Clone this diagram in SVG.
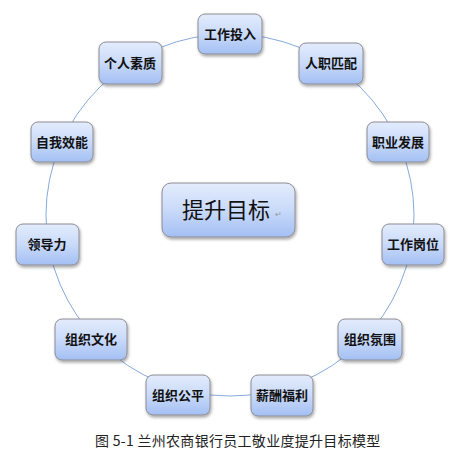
<svg xmlns="http://www.w3.org/2000/svg" width="465" height="454" viewBox="0 0 465 454">
<defs>
<linearGradient id="g" x1="0" y1="0" x2="0" y2="1">
<stop offset="0" stop-color="#e3ecfc"/>
<stop offset="0.5" stop-color="#c9dafa"/>
<stop offset="1" stop-color="#a3bff3"/>
</linearGradient>
<filter id="sh" x="-20%" y="-20%" width="140%" height="150%">
<feDropShadow dx="1" dy="2" stdDeviation="1.5" flood-color="#000" flood-opacity="0.35"/>
</filter>
</defs>
<style>
.box{fill:url(#g);stroke:#8c8c94;stroke-width:1;filter:url(#sh)}
.t{font-family:"Noto Sans CJK SC","Noto Sans",sans-serif;font-size:13px;font-weight:bold;fill:#111;text-anchor:middle}
.m{font-family:"Noto Sans CJK SC","Noto Sans",sans-serif;font-size:22px;fill:#111;text-anchor:middle}
.c{font-family:"Noto Sans CJK SC","Noto Sans",sans-serif;font-size:14px;letter-spacing:0.3px;fill:#222}
.line{fill:none;stroke:#86a9dc;stroke-width:1}
</style>
<rect width="465" height="454" fill="#fff"/>
<g id="connectors">
<ellipse class="line" cx="230" cy="215" rx="184" ry="181"/>
</g>
<g id="center">
<rect class="box" x="162" y="183" width="133" height="54" rx="9"/>
<text class="m" x="226" y="218">提升目标</text>
<text x="275" y="217" font-family="'Noto Sans CJK SC',sans-serif" font-size="8" fill="#999">↵</text>
</g>
<g id="n1"><rect class="box" x="198" y="14" width="64" height="40" rx="7"/><text class="t" x="230" y="39">工作投入</text></g>
<g id="n2"><rect class="box" x="299" y="43" width="64" height="41" rx="7"/><text class="t" x="331" y="68">人职匹配</text></g>
<g id="n3"><rect class="box" x="367" y="122" width="62" height="40" rx="7"/><text class="t" x="398" y="147">职业发展</text></g>
<g id="n4"><rect class="box" x="382" y="224" width="62" height="41" rx="7"/><text class="t" x="413" y="249">工作岗位</text></g>
<g id="n5"><rect class="box" x="338" y="319" width="64" height="41" rx="7"/><text class="t" x="370" y="344">组织氛围</text></g>
<g id="n6"><rect class="box" x="251" y="375" width="62" height="41" rx="7"/><text class="t" x="282" y="400">薪酬福利</text></g>
<g id="n7"><rect class="box" x="146" y="375" width="64" height="40" rx="7"/><text class="t" x="178" y="400">组织公平</text></g>
<g id="n8"><rect class="box" x="55" y="319" width="72" height="41" rx="7"/><text class="t" x="91" y="344">组织文化</text></g>
<g id="n9"><rect class="box" x="16" y="224" width="63" height="41" rx="7"/><text class="t" x="47" y="249">领导力</text></g>
<g id="n10"><rect class="box" x="31" y="122" width="62" height="40" rx="7"/><text class="t" x="62" y="147">自我效能</text></g>
<g id="n11"><rect class="box" x="99" y="42" width="63" height="42" rx="7"/><text class="t" x="130" y="68">个人素质</text></g>
<text class="c" x="95" y="446">图 5-1 兰州农商银行员工敬业度提升目标模型</text>
</svg>
